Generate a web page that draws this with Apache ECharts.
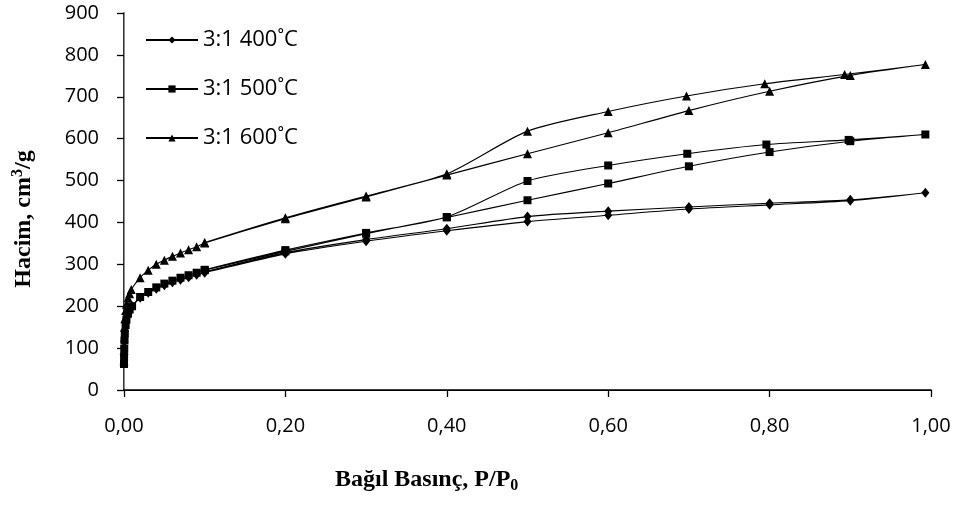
<!DOCTYPE html>
<html><head><meta charset="utf-8">
<script src="https://cdn.jsdelivr.net/npm/echarts@6/dist/echarts.min.js"></script>
<style>html,body{margin:0;padding:0;background:#fff}#c{width:961px;height:505px}</style>
</head><body><div id="c"></div>
<script>
// Series names
var seriesNames = ['3:1 400˚C', '3:1 500˚C', '3:1 600˚C'];

// 3:1 400°C (adsorption then desorption)
var p400 = [0.00002,0.0001,0.0003,0.0006,0.001,0.002,0.003,0.005,0.007,0.01,0.02,0.03,0.04,0.05,0.06,0.07,0.08,0.09,0.1,0.2,0.3,0.4,0.5,0.6,0.7,0.8,0.9,0.993,0.9,0.8,0.7,0.6,0.5,0.4,0.3,0.2,0.1];
var v400 = [65,82,102,122,140,158,170,184,193,200,220,232,242,250,257,263,269,275,280,325,355,380,402,417,432,442,452,471,454,446,437,427,414,385,359,328,282];

// 3:1 500°C
var p500 = [0.00002,0.0001,0.0003,0.0006,0.001,0.002,0.003,0.005,0.007,0.01,0.02,0.03,0.04,0.05,0.06,0.07,0.08,0.09,0.1,0.2,0.3,0.4,0.5,0.6,0.7,0.8,0.9,0.993,0.898,0.796,0.698,0.6,0.5,0.4,0.3,0.2,0.1];
var v500 = [62,78,98,118,135,155,168,182,192,200,222,234,245,254,261,268,274,280,286,331,373,412,453,493,534,568,594,610,597,586,564,536,499,413,375,334,287];

// 3:1 600°C
var p600 = [0.00002,0.0001,0.0003,0.0006,0.001,0.002,0.003,0.005,0.007,0.009,0.02,0.03,0.04,0.05,0.06,0.07,0.08,0.09,0.1,0.2,0.3,0.4,0.5,0.6,0.7,0.8,0.9,0.993,0.893,0.794,0.697,0.6,0.5,0.4,0.3,0.2,0.1];
var v600 = [70,95,125,150,170,190,205,220,230,240,268,286,300,310,319,327,335,342,351,409,461,513,564,614,667,713,751,777,753,731,702,665,618,516,463,411,352];

function zip(a, b) { return a.map(function (x, i) { return [x, b[i]]; }); }

var chart = echarts.init(document.getElementById('c'), null, {renderer: 'canvas'});
var lineStyle = {color: '#000', width: 1.1};
function mk(name, p, v, sym, size) {
  return {
    name: name, type: 'line', data: zip(p, v), smooth: 0.25,
    symbol: sym, symbolSize: size, showSymbol: true,
    lineStyle: lineStyle, itemStyle: {color: '#000', borderWidth: 0},
    animation: false, emphasis: {disabled: true}
  };
}
var option = {
  animation: false,
  grid: {left: 124, right: 30, top: 13, bottom: 115, containLabel: false},
  legend: {
    orient: 'vertical', left: 140, top: 24, itemGap: 27,
    itemWidth: 52, itemHeight: 9,
    textStyle: {fontFamily: 'Open Sans', fontSize: 22, lineHeight: 22, color: '#000'},
    data: seriesNames
  },
  xAxis: [{
    type: 'value', min: 0, max: 1, interval: 0.2,
    axisLine: {show: true, onZero: false, lineStyle: {color: '#000', width: 1.6}},
    axisTick: {show: true, inside: false, length: 7, lineStyle: {color: '#000', width: 1.3}},
    splitLine: {show: false},
    axisLabel: {margin: 26, fontFamily: 'Open Sans', fontSize: 20, color: '#000',
      formatter: function (v) { return v.toFixed(2).replace('.', ','); }}
  }, {
    type: 'value', position: 'top', min: 0, max: 1,
    axisLine: {show: true, lineStyle: {color: '#000', width: 1}},
    axisTick: {show: false}, axisLabel: {show: false}, splitLine: {show: false}
  }],
  yAxis: [{
    type: 'value', min: 0, max: 900, interval: 100,
    axisLine: {show: true, onZero: false, lineStyle: {color: '#000', width: 1.6}},
    axisTick: {show: true, inside: false, length: 7, lineStyle: {color: '#000', width: 1.3}},
    splitLine: {show: false},
    axisLabel: {margin: 25, fontFamily: 'Open Sans', fontSize: 20, color: '#000'}
  }, {
    type: 'value', position: 'right', min: 0, max: 900,
    axisLine: {show: true, lineStyle: {color: '#8c8c8c', width: 1}},
    axisTick: {show: false}, axisLabel: {show: false}, splitLine: {show: false}
  }],
  graphic: [{
    type: 'text', x: 335, y: 480,
    style: {
      text: '{b|Bağıl Basınç, P/P}{s|0}',
      verticalAlign: 'middle',
      rich: {
        b: {fontFamily: 'Liberation Serif', fontWeight: 'bold', fontSize: 24, fill: '#000'},
        s: {fontFamily: 'Liberation Serif', fontWeight: 'bold', fontSize: 16, fill: '#000', padding: [12,0,0,0]}
      }
    }
  }, {
    type: 'text', x: 24, y: 219, rotation: Math.PI / 2,
    style: {
      text: '{b|Hacim, cm}{s|3}{b|/g}',
      align: 'center', verticalAlign: 'middle',
      rich: {
        b: {fontFamily: 'Liberation Serif', fontWeight: 'bold', fontSize: 24, fill: '#000'},
        s: {fontFamily: 'Liberation Serif', fontWeight: 'bold', fontSize: 16, fill: '#000', padding: [0,0,12,0]}
      }
    }
  }],
  series: [
    mk(seriesNames[0], p400, v400, 'diamond', [8, 10]),
    mk(seriesNames[1], p500, v500, 'rect', 8),
    mk(seriesNames[2], p600, v600, 'triangle', 9)
  ]
};
chart.setOption(option);
</script>
</body></html>
